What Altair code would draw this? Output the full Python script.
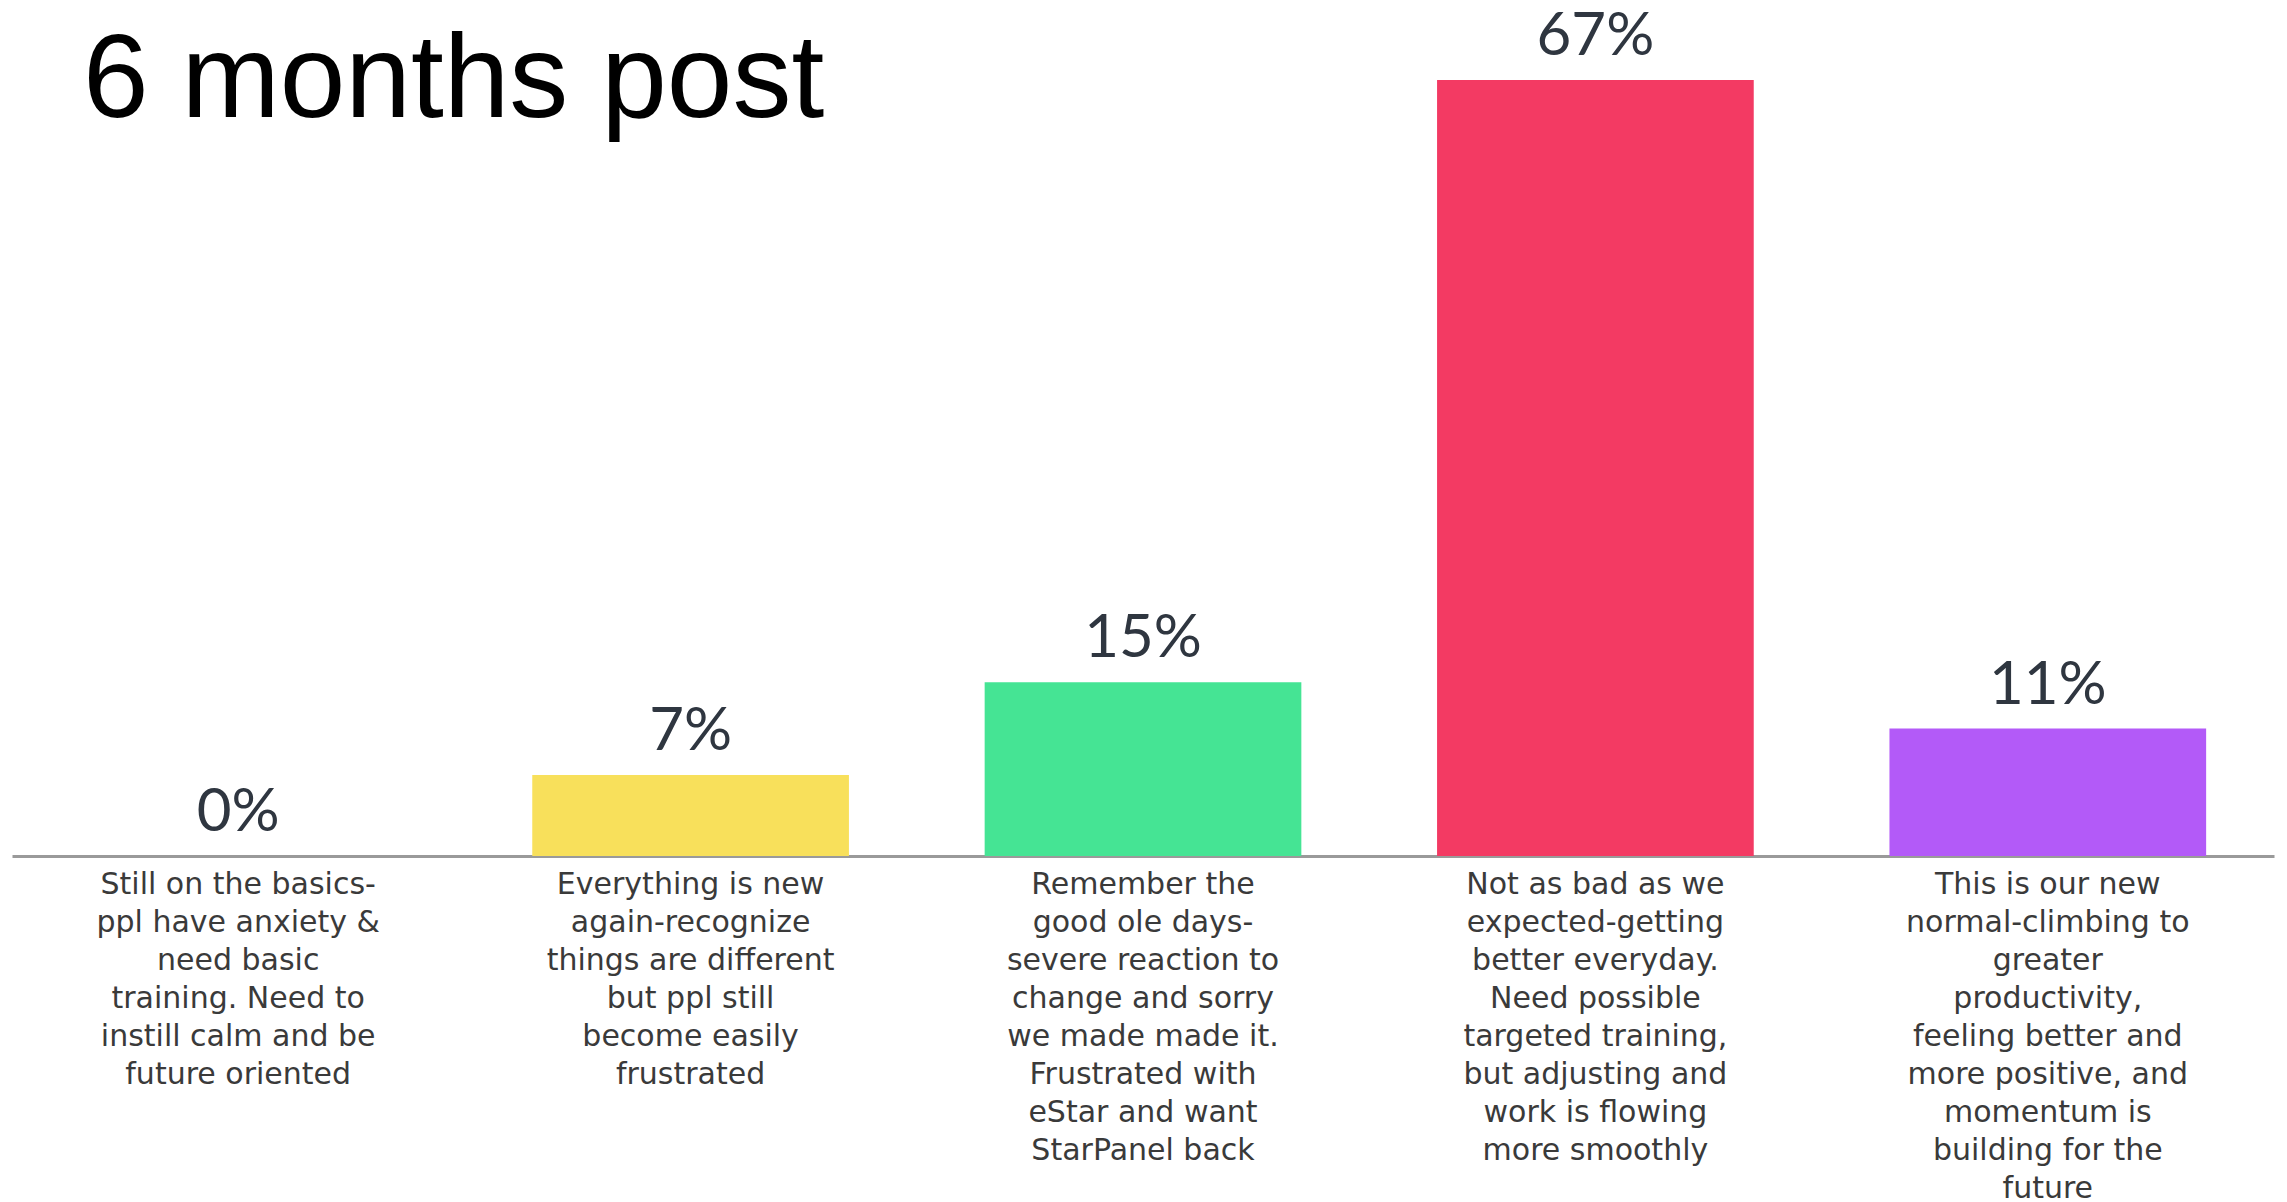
import altair as alt
import pandas as pd

title_text = "6 months post"

categories = [
    "Still on the basics-|ppl have anxiety &|need basic|training. Need to|instill calm and be|future oriented",
    "Everything is new|again-recognize|things are different|but ppl still|become easily|frustrated",
    "Remember the|good ole days-|severe reaction to|change and sorry|we made made it.|Frustrated with|eStar and want|StarPanel back",
    "Not as bad as we|expected-getting|better everyday.|Need possible|targeted training,|but adjusting and|work is flowing|more smoothly",
    "This is our new|normal-climbing to|greater|productivity,|feeling better and|more positive, and|momentum is|building for the|future",
]
values = [0, 7, 15, 67, 11]
value_labels = ["0%", "7%", "15%", "67%", "11%"]
colors = ["#5B7CFA", "#F8E05B", "#45E494", "#F33A63", "#B35AF8"]

df = pd.DataFrame({"cat": categories, "val": values, "lab": value_labels})

x = alt.X(
    "cat:N",
    sort=None,
    scale=alt.Scale(paddingInner=0.3, paddingOuter=0.15),
    axis=alt.Axis(
        title=None,
        labelAngle=0,
        labelExpr="split(datum.value, '|')",
        labelFont="DejaVu Sans",
        labelFontSize=30,
        labelLineHeight=38,
        labelColor="#3a3a3a",
        labelPadding=13,
        labelLimit=600,
        labelBaseline="top",
        ticks=False,
        domainColor="#9a9a9a",
        domainWidth=3,
        grid=False,
    ),
)
y = alt.Y(
    "val:Q",
    scale=alt.Scale(domain=[0, 67 * 856 / 776], nice=False, zero=True),
    axis=None,
)

base = alt.Chart(df)

bars = base.mark_bar().encode(
    x=x,
    y=y,
    color=alt.Color("cat:N", sort=None, scale=alt.Scale(domain=categories, range=colors), legend=None),
)

labels = base.mark_text(
    font="Lato", fontSize=60, color="#2f3640", baseline="alphabetic", dy=-25
).encode(x=x, y=y, text="lab:N")

title = alt.Chart(pd.DataFrame({"t": [title_text]})).mark_text(
    font="Liberation Sans", fontSize=118, color="#000000", align="left", baseline="alphabetic"
).encode(text="t:N", x=alt.value(71), y=alt.value(117))

chart = (
    alt.layer(bars, labels, title)
    .properties(
        width=2262,
        height=856,
        autosize=alt.AutoSizeParams(type="none"),
        padding={"left": 12, "top": 0, "right": 13, "bottom": 346},
        background="white",
    )
    .configure_view(stroke=None)
)

chart.save("out.html", embed_options={"renderer": "svg", "actions": False})
